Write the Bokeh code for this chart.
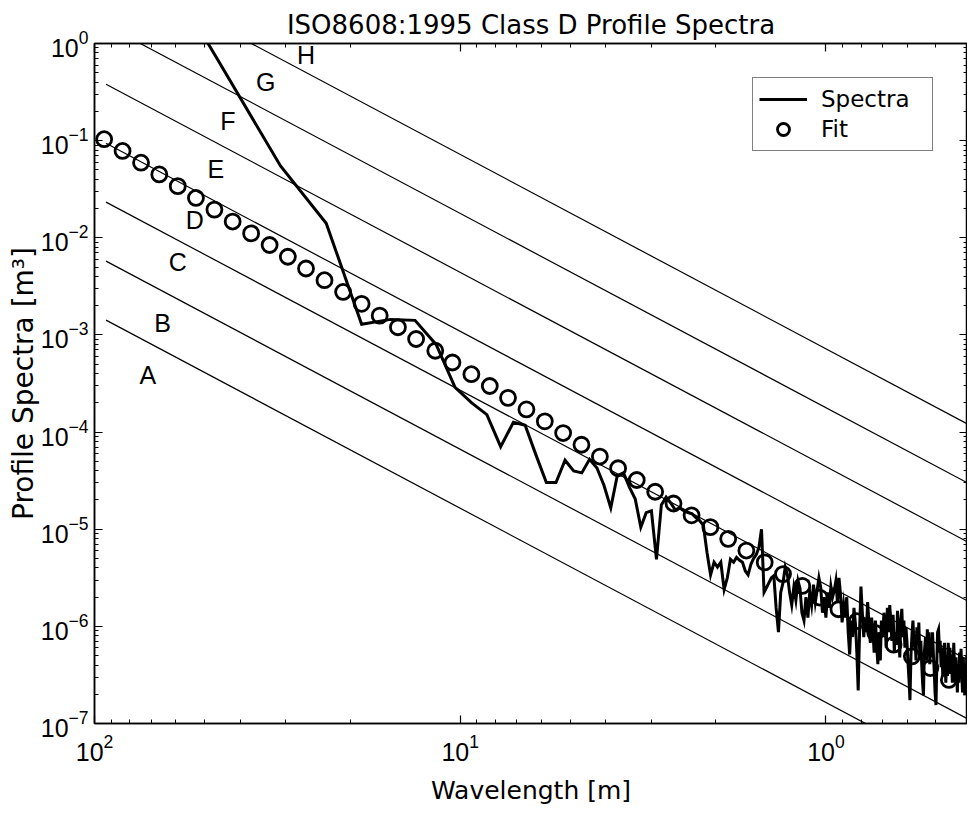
from bokeh.plotting import figure
from bokeh.models import Range1d, FixedTicker, LogAxis, LogTickFormatter, CustomJSTickFormatter
from bokeh.core.properties import value
from bokeh.embed import file_html
from bokeh.resources import INLINE

FONT = "Liberation Sans"
WIDE_FONT = "DejaVu Sans"

# ---------------- data ----------------
title_text = "ISO8608:1995 Class D Profile Spectra"
x_label = "Wavelength [m]"
y_label = "Profile Spectra [m\u00b3]"

x_major_ticks = [100, 10, 1]
y_major_ticks = [1e-7, 1e-6, 1e-5, 1e-4, 1e-3, 1e-2, 1e-1, 1e0]

# measured spectrum (wavelength in m, log10 of spectral value)
spectra_wavelength = [
    93.0, 46.5, 31.0, 23.25, 18.6, 15.5, 13.29, 11.63, 10.33, 9.3,
    8.455, 7.75, 7.154, 6.643, 6.2, 5.813, 5.471, 5.167, 4.895, 4.65,
    4.429, 4.227, 4.043, 3.875, 3.72, 3.577, 3.444, 3.321, 3.207, 3.1,
    3.0, 2.906, 2.818, 2.735, 2.657, 2.583, 2.514, 2.447, 2.385, 2.325,
    2.268, 2.214, 2.163, 2.114, 2.067, 2.022, 1.979, 1.938, 1.898, 1.86,
    1.824, 1.788, 1.755, 1.722, 1.691, 1.661, 1.632, 1.603, 1.576, 1.55,
    1.525, 1.5, 1.476, 1.453, 1.431, 1.409, 1.388, 1.368, 1.348, 1.329,
    1.31, 1.292, 1.274, 1.257, 1.24, 1.224, 1.208, 1.192, 1.177, 1.163,
    1.148, 1.134, 1.12, 1.107, 1.094, 1.081, 1.069, 1.057, 1.045, 1.033,
    1.022, 1.011, 1.0, 0.989, 0.979, 0.969, 0.959, 0.949, 0.939, 0.93,
    0.921, 0.912, 0.903, 0.894, 0.886, 0.877, 0.869, 0.861, 0.853, 0.845,
    0.838, 0.830, 0.823, 0.816, 0.809, 0.802, 0.795, 0.788, 0.782, 0.775,
    0.769, 0.762, 0.756, 0.75, 0.744, 0.738, 0.732, 0.727, 0.721, 0.715,
    0.710, 0.705, 0.699, 0.694, 0.689, 0.684, 0.679, 0.674, 0.669, 0.664,
    0.660, 0.655, 0.650, 0.646, 0.641, 0.637, 0.633, 0.628, 0.624, 0.62,
    0.616, 0.612, 0.608, 0.604, 0.6, 0.596, 0.592, 0.589, 0.585, 0.581,
    0.578, 0.574, 0.571, 0.567, 0.564, 0.560, 0.557, 0.554, 0.550, 0.547,
    0.544, 0.541, 0.538, 0.534, 0.531, 0.528, 0.525, 0.522, 0.520, 0.517,
    0.514, 0.511, 0.508, 0.505, 0.503, 0.5, 0.497, 0.495, 0.492, 0.489,
    0.487, 0.484, 0.482, 0.479, 0.477, 0.474, 0.472, 0.470, 0.467, 0.465,
    0.463, 0.460, 0.458, 0.456, 0.454, 0.451, 0.449, 0.447, 0.445, 0.443,
    0.441, 0.439, 0.437, 0.435, 0.433, 0.431, 0.429, 0.427, 0.425, 0.423,
    0.421, 0.419, 0.417, 0.415, 0.413, 0.412, 0.410,
]
spectra_log10 = [
    1.78, -0.14, -1.26, -1.85, -2.89, -2.84, -2.85, -3.10, -3.54, -3.70,
    -3.82, -4.15, -3.90, -3.93, -4.24, -4.52, -4.52, -4.29, -4.40, -4.42,
    -4.28, -4.37, -4.55, -4.78, -4.45, -4.42, -4.57, -4.69, -4.98, -4.83,
    -4.81, -5.31, -4.75, -4.67, -4.73, -4.80, -4.78, -4.81, -4.83, -4.84,
    -4.88, -4.91, -4.96, -5.24, -5.47, -5.34, -5.39, -5.34, -5.62, -5.50,
    -5.31, -5.34, -5.29, -5.32, -5.34, -5.43, -5.47, -5.36, -5.30, -5.26,
    -5.19, -5.00, -5.65, -5.60, -5.55, -5.50, -5.48, -5.81, -6.06, -5.65,
    -5.55, -5.39, -5.47, -5.65, -5.78, -5.60, -5.73, -5.53, -5.61, -5.86,
    -5.94, -5.70, -5.91, -5.65, -5.78, -5.57, -5.75, -5.63, -5.50, -5.60,
    -5.86, -5.70, -5.91, -5.65, -5.81, -5.59, -5.70, -5.63, -5.53, -5.75,
    -5.50, -5.67, -5.96, -5.78, -5.91, -5.70, -6.06, -6.29, -5.94, -6.11,
    -5.81, -5.98, -6.27, -6.66, -6.06, -5.59, -5.86, -6.11, -5.91, -6.06,
    -5.75, -5.98, -6.17, -5.91, -6.04, -6.27, -5.94, -6.17, -6.39, -6.06,
    -6.35, -5.94, -6.11, -5.86, -5.98, -6.22, -5.81, -6.06, -5.78, -5.96,
    -6.15, -5.88, -6.27, -6.06, -6.19, -5.84, -6.01, -6.32, -5.96, -5.82,
    -6.11, -5.94, -6.22, -6.01, -6.17, -6.39, -6.58, -6.76, -6.27, -6.06,
    -5.94, -6.22, -6.08, -6.35, -6.01, -6.17, -5.96, -6.27, -6.15, -6.39,
    -6.58, -6.71, -6.27, -6.11, -6.35, -6.03, -6.22, -6.06, -6.39, -6.17,
    -6.32, -6.06, -6.30, -6.50, -6.68, -6.81, -6.32, -6.06, -6.03, -6.27,
    -6.15, -6.42, -6.22, -6.51, -6.29, -6.17, -6.37, -6.58, -6.32, -6.51,
    -6.17, -6.35, -6.22, -6.48, -6.29, -6.58, -6.37, -6.17, -6.42, -6.58,
    -6.32, -6.48, -6.68, -6.39, -6.58, -6.27, -6.45, -6.23, -6.50, -6.68,
    -6.32, -6.58, -6.71, -6.39, -6.56, -6.30, -6.48,
]
spectra_value = [10 ** e for e in spectra_log10]

# fitted spectrum (circles)
fit_wavelength = [
    94.1, 83.8, 74.6, 66.5, 59.2, 52.8, 47.0, 41.9, 37.3, 33.2,
    29.6, 26.4, 23.5, 20.9, 18.6, 16.6, 14.8, 13.2, 11.7, 10.5,
    9.32, 8.30, 7.40, 6.59, 5.87, 5.23, 4.66, 4.15, 3.70, 3.29,
    2.93, 2.61, 2.33, 2.07, 1.85, 1.65, 1.47, 1.31, 1.16, 1.04,
    0.924, 0.823, 0.733, 0.653, 0.582, 0.518, 0.461,
]
fit_value = [
    0.1035, 0.0783, 0.0593, 0.0449, 0.0340, 0.0257, 0.0195, 0.0147, 0.0111, 0.00843,
    0.00638, 0.00483, 0.00366, 0.00277, 0.00209, 0.00158, 0.00120, 9.08e-4, 6.87e-4, 5.20e-4,
    3.94e-4, 2.98e-4, 2.25e-4, 1.71e-4, 1.29e-4, 9.77e-5, 7.40e-5, 5.60e-5, 4.24e-5, 3.21e-5,
    2.43e-5, 1.84e-5, 1.39e-5, 1.05e-5, 7.96e-6, 6.03e-6, 4.56e-6, 3.45e-6, 2.61e-6, 1.98e-6,
    1.50e-6, 1.13e-6, 8.57e-7, 6.49e-7, 4.91e-7, 3.72e-7, 2.81e-7,
]

# ISO class boundary lines: value at the start and end wavelength
class_line_wavelength = [93.0, 0.41]
class_line_start_value = [1.42e-3, 5.75e-3, 2.33e-2, 9.42e-2, 0.381, 1.54, 6.24]
class_line_end_value = [2.77e-8, 1.12e-7, 4.53e-7, 1.83e-6, 7.41e-6, 3.00e-5, 1.21e-4]

# class letters
class_labels = ["A", "B", "C", "D", "E", "F", "G", "H"]
class_label_wavelength = [71.5, 65.1, 59.2, 53.2, 46.6, 43.2, 34.0, 26.4]
class_label_value = [3.91e-4, 1.34e-3, 5.57e-3, 1.51e-2, 5.05e-2, 0.161, 0.397, 0.770]

# ---------------- figure ----------------
p = figure(
    width=967, height=807,
    x_axis_type="log", y_axis_type="log",
    x_range=Range1d(100, 0.41), y_range=Range1d(1e-7, 1.0),
    output_backend="svg", toolbar_location=None,
    min_border_left=94, min_border_right=0, min_border_top=43, min_border_bottom=80,
)
p.background_fill_color = "white"
p.border_fill_color = "white"
p.outline_line_color = "black"
p.outline_line_width = 1.5
p.grid.visible = False

p.title.text = title_text
p.title.align = "center"
p.title.text_font = WIDE_FONT
p.title.text_font_size = "26px"
p.title.text_font_style = "normal"
p.title.text_color = "black"
p.title.text_line_height = 1.0
p.title.standoff = 8

x_minor = [m * 10 for m in range(2, 10)] + list(range(2, 10)) + [m / 10 for m in range(5, 10)]
y_minor = [m * 10.0 ** e for e in range(-7, 0) for m in range(2, 10)]


def style_axis(ax, ticks, minor, show_labels):
    ax.ticker = FixedTicker(ticks=ticks, minor_ticks=minor)
    ax.major_tick_in = 8
    ax.major_tick_out = 0
    ax.minor_tick_in = 4
    ax.minor_tick_out = 0
    ax.axis_line_width = 1.5
    ax.axis_line_color = "black"
    ax.major_tick_line_width = 1.2
    ax.minor_tick_line_width = 1
    ax.major_label_text_font = FONT
    ax.major_label_text_color = "black"
    ax.axis_label_text_font = WIDE_FONT
    ax.axis_label_text_font_style = "normal"
    ax.axis_label_text_font_size = "25px"
    ax.axis_label_text_color = "black"
    if show_labels:
        ax.formatter = LogTickFormatter()
        ax.major_label_text_font_size = "25px"
    else:
        ax.formatter = CustomJSTickFormatter(code="return ''")
        ax.major_label_text_font_size = "1px"
        ax.major_label_standoff = 0


style_axis(p.xaxis[0], x_major_ticks, x_minor, True)
style_axis(p.yaxis[0], y_major_ticks, y_minor, True)
p.xaxis[0].axis_label = x_label
p.yaxis[0].axis_label = y_label
p.xaxis[0].major_label_standoff = 10
p.xaxis[0].axis_label_standoff = 12
p.yaxis[0].major_label_standoff = 6
p.yaxis[0].axis_label_standoff = -2
p.yaxis[0].axis_label_text_font_size = "28px"

top_axis = LogAxis()
style_axis(top_axis, x_major_ticks, x_minor, False)
p.add_layout(top_axis, "above")
right_axis = LogAxis()
style_axis(right_axis, y_major_ticks, y_minor, False)
p.add_layout(right_axis, "right")

# class boundary lines
for v0, v1 in zip(class_line_start_value, class_line_end_value):
    p.line(class_line_wavelength, [v0, v1], line_color="black", line_width=1.2)

p.text(x=class_label_wavelength, y=class_label_value, text=class_labels,
       text_font=value(FONT), text_font_size="25px", text_color="black",
       text_align="center", text_baseline="middle")

p.line(spectra_wavelength, spectra_value, line_color="black", line_width=3,
       line_join="miter", legend_label="Spectra")
p.scatter(fit_wavelength, fit_value, marker="circle", size=15, line_color="black",
          line_width=2.8, fill_color=None, legend_label="Fit")

lg = p.legend[0]
lg.location = "top_right"
lg.margin = 34
lg.padding = 6
lg.spacing = 0
lg.glyph_width = 48
lg.glyph_height = 30
lg.label_standoff = 14
lg.label_width = 105
lg.label_text_font = WIDE_FONT
lg.label_text_font_size = "23px"
lg.label_text_color = "black"
lg.border_line_color = "black"
lg.border_line_width = 1.5
lg.background_fill_color = "white"
lg.background_fill_alpha = 1.0

open("out.html", "w").write(file_html(p, INLINE))
